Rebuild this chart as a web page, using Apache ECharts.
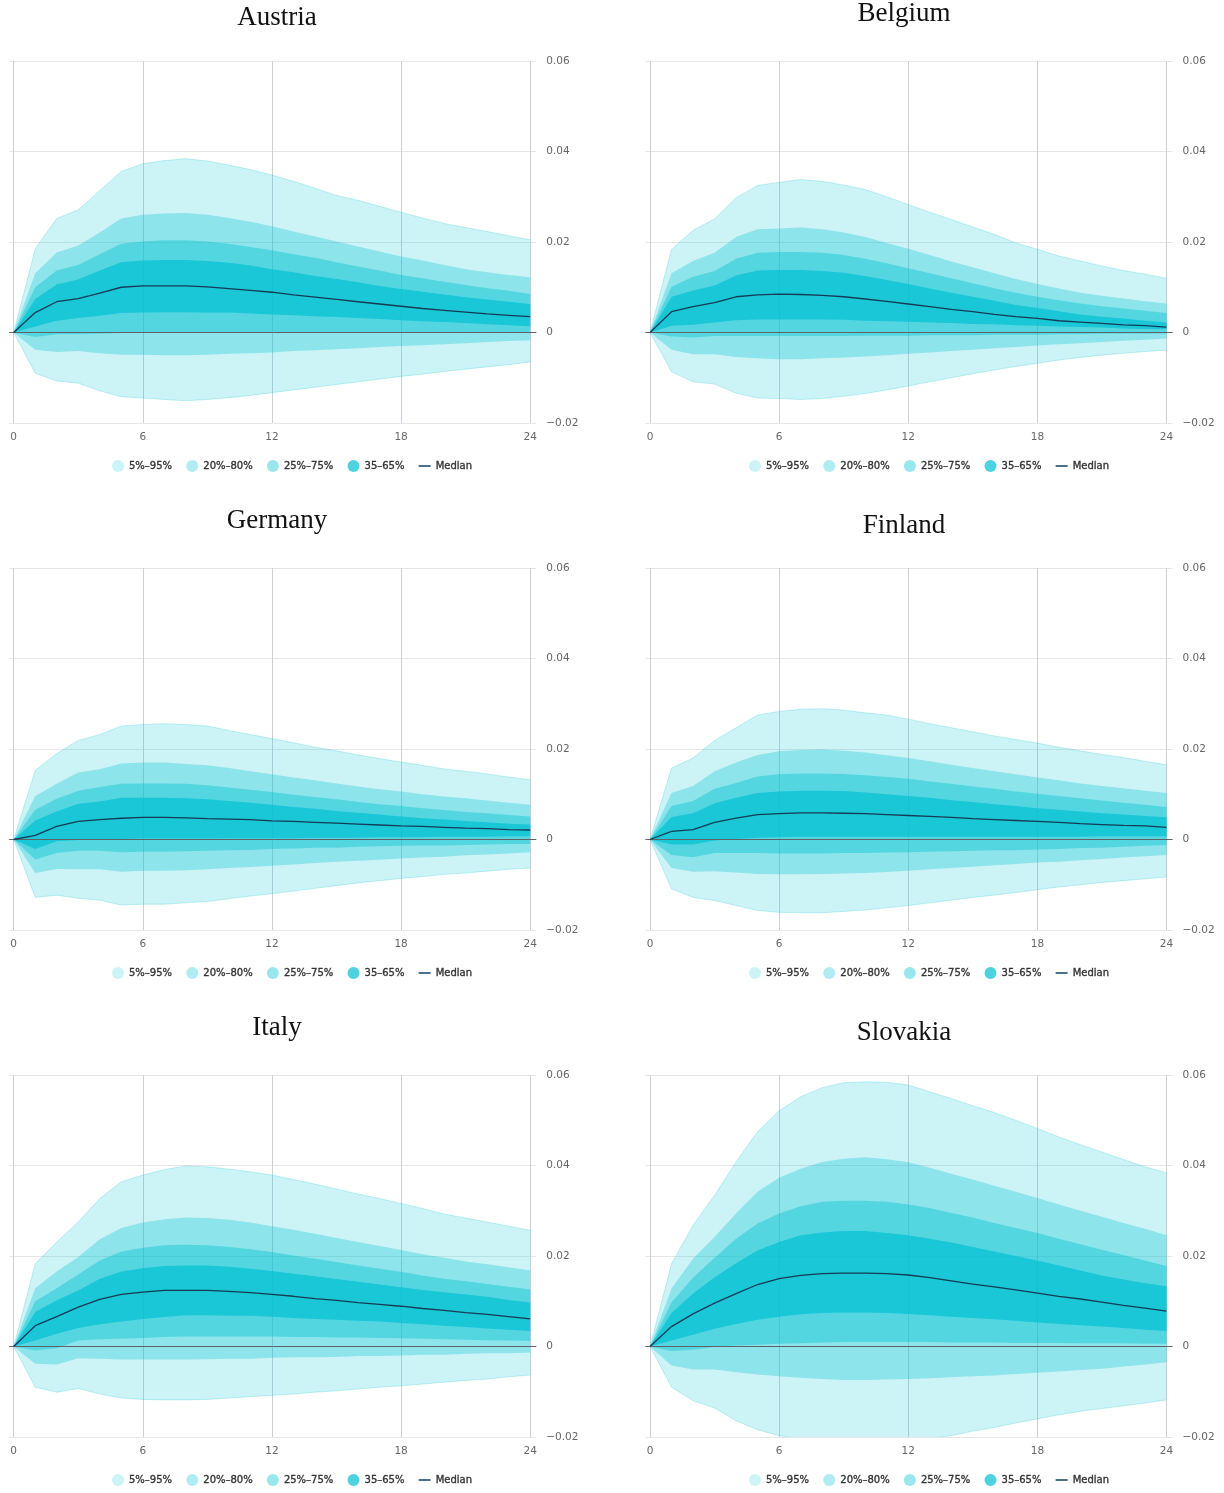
<!DOCTYPE html>
<html>
<head>
<meta charset="utf-8">
<script src="https://cdn.jsdelivr.net/npm/echarts@6/dist/echarts.min.js"></script>
<style>
  html, body { margin: 0; padding: 0; background: #ffffff; }
  #chart { width: 1224px; height: 1493px; }
</style>
</head>
<body>
<div id="chart"></div>
<script>
// Months after the shock
const HORIZON = [0,1,2,3,4,5,6,7,8,9,10,11,12,13,14,15,16,17,18,19,20,21,22,23,24];
const X_TICKS = [0, 6, 12, 18, 24];
const Y_TICKS = [-0.02, 0, 0.02, 0.04, 0.06];

// Austria
const AT_P05 = [0,-0.0090,-0.0107,-0.0112,-0.0129,-0.0142,-0.0145,-0.0148,-0.0151,-0.0148,-0.0144,-0.0139,-0.0133,-0.0127,-0.0121,-0.0115,-0.0109,-0.0103,-0.0097,-0.0092,-0.0086,-0.0081,-0.0076,-0.0071,-0.0065];
const AT_P95 = [0,0.0185,0.0252,0.0271,0.0314,0.0356,0.0373,0.0380,0.0384,0.0379,0.0370,0.0360,0.0348,0.0334,0.0319,0.0303,0.0292,0.0279,0.0266,0.0253,0.0241,0.0232,0.0223,0.0214,0.0205];
const AT_P20 = [0,-0.0038,-0.0043,-0.0041,-0.0046,-0.0049,-0.0049,-0.0050,-0.0050,-0.0049,-0.0047,-0.0046,-0.0044,-0.0041,-0.0039,-0.0037,-0.0035,-0.0032,-0.0030,-0.0028,-0.0026,-0.0024,-0.0021,-0.0019,-0.0017];
const AT_P80 = [0,0.0131,0.0177,0.0192,0.0221,0.0252,0.0260,0.0263,0.0264,0.0260,0.0253,0.0245,0.0235,0.0223,0.0212,0.0201,0.0190,0.0179,0.0168,0.0159,0.0149,0.0140,0.0133,0.0127,0.0122];
const AT_P25 = [0,-0.0010,-0.0004,-0.0004,-0.0003,-0.0001,0.0000,0.0000,0.0000,0.0001,0.0001,0.0001,0.0001,0.0001,0.0001,0.0001,0.0001,0.0001,0.0001,0.0001,0.0001,0.0001,0.0001,0.0001,0.0001];
const AT_P75 = [0,0.0100,0.0137,0.0149,0.0173,0.0196,0.0201,0.0204,0.0204,0.0201,0.0196,0.0189,0.0182,0.0173,0.0165,0.0155,0.0146,0.0137,0.0127,0.0120,0.0112,0.0105,0.0098,0.0092,0.0085];
const AT_P35 = [0,0.0013,0.0026,0.0032,0.0037,0.0043,0.0044,0.0045,0.0045,0.0044,0.0044,0.0042,0.0040,0.0038,0.0036,0.0034,0.0032,0.0030,0.0027,0.0025,0.0023,0.0021,0.0018,0.0016,0.0014];
const AT_P65 = [0,0.0074,0.0106,0.0117,0.0137,0.0155,0.0159,0.0160,0.0160,0.0158,0.0154,0.0148,0.0140,0.0133,0.0125,0.0118,0.0111,0.0103,0.0096,0.0090,0.0084,0.0078,0.0073,0.0068,0.0063];
const AT_MED = [0,0.0044,0.0068,0.0075,0.0087,0.0100,0.0103,0.0103,0.0103,0.0101,0.0097,0.0093,0.0089,0.0083,0.0078,0.0073,0.0068,0.0063,0.0058,0.0053,0.0049,0.0045,0.0041,0.0038,0.0035];

// Belgium
const BE_P05 = [0,-0.0087,-0.0109,-0.0114,-0.0134,-0.0145,-0.0146,-0.0148,-0.0146,-0.0141,-0.0135,-0.0127,-0.0118,-0.0109,-0.0100,-0.0091,-0.0083,-0.0075,-0.0068,-0.0061,-0.0055,-0.0050,-0.0046,-0.0042,-0.0039];
const BE_P95 = [0,0.0184,0.0226,0.0251,0.0298,0.0325,0.0332,0.0338,0.0334,0.0326,0.0316,0.0300,0.0283,0.0266,0.0250,0.0233,0.0217,0.0198,0.0184,0.0169,0.0158,0.0147,0.0137,0.0129,0.0120];
const BE_P20 = [0,-0.0038,-0.0048,-0.0048,-0.0054,-0.0057,-0.0059,-0.0059,-0.0057,-0.0055,-0.0053,-0.0050,-0.0047,-0.0044,-0.0041,-0.0038,-0.0035,-0.0032,-0.0029,-0.0026,-0.0024,-0.0021,-0.0018,-0.0016,-0.0013];
const BE_P80 = [0,0.0131,0.0158,0.0176,0.0211,0.0228,0.0230,0.0232,0.0228,0.0221,0.0211,0.0198,0.0185,0.0171,0.0157,0.0144,0.0131,0.0118,0.0107,0.0097,0.0088,0.0081,0.0075,0.0069,0.0064];
const BE_P25 = [0,-0.0009,-0.0011,-0.0008,-0.0008,-0.0008,-0.0008,-0.0008,-0.0008,-0.0008,-0.0007,-0.0007,-0.0007,-0.0006,-0.0006,-0.0006,-0.0005,-0.0005,-0.0005,-0.0004,-0.0004,-0.0003,-0.0003,-0.0003,-0.0002];
const BE_P75 = [0,0.0101,0.0123,0.0136,0.0163,0.0176,0.0178,0.0178,0.0176,0.0171,0.0163,0.0153,0.0142,0.0131,0.0120,0.0109,0.0098,0.0088,0.0079,0.0071,0.0064,0.0058,0.0053,0.0048,0.0043];
const BE_P35 = [0,0.0015,0.0017,0.0022,0.0027,0.0029,0.0029,0.0029,0.0029,0.0028,0.0026,0.0025,0.0024,0.0022,0.0021,0.0019,0.0018,0.0016,0.0015,0.0013,0.0012,0.0011,0.0009,0.0008,0.0007];
const BE_P65 = [0,0.0079,0.0093,0.0104,0.0126,0.0137,0.0138,0.0138,0.0136,0.0132,0.0125,0.0116,0.0107,0.0097,0.0088,0.0079,0.0070,0.0061,0.0054,0.0047,0.0040,0.0035,0.0031,0.0026,0.0022];
const BE_MED = [0,0.0046,0.0057,0.0066,0.0079,0.0083,0.0085,0.0084,0.0082,0.0079,0.0074,0.0069,0.0063,0.0057,0.0051,0.0046,0.0040,0.0035,0.0031,0.0026,0.0023,0.0020,0.0017,0.0015,0.0012];

// Germany
const DE_P05 = [0,-0.0128,-0.0123,-0.0130,-0.0134,-0.0145,-0.0143,-0.0143,-0.0140,-0.0137,-0.0131,-0.0125,-0.0120,-0.0114,-0.0108,-0.0102,-0.0096,-0.0091,-0.0086,-0.0082,-0.0077,-0.0074,-0.0070,-0.0066,-0.0063];
const DE_P95 = [0,0.0153,0.0190,0.0219,0.0232,0.0251,0.0254,0.0256,0.0254,0.0251,0.0241,0.0232,0.0223,0.0214,0.0204,0.0196,0.0187,0.0179,0.0171,0.0164,0.0156,0.0151,0.0145,0.0138,0.0132];
const DE_P20 = [0,-0.0074,-0.0065,-0.0066,-0.0066,-0.0071,-0.0069,-0.0069,-0.0068,-0.0066,-0.0063,-0.0061,-0.0058,-0.0055,-0.0052,-0.0049,-0.0047,-0.0045,-0.0042,-0.0040,-0.0038,-0.0035,-0.0033,-0.0031,-0.0028];
const DE_P80 = [0,0.0096,0.0123,0.0148,0.0155,0.0168,0.0170,0.0170,0.0167,0.0164,0.0158,0.0151,0.0144,0.0137,0.0131,0.0124,0.0117,0.0111,0.0106,0.0100,0.0095,0.0091,0.0086,0.0081,0.0077];
const DE_P25 = [0,-0.0044,-0.0030,-0.0025,-0.0025,-0.0028,-0.0027,-0.0027,-0.0026,-0.0025,-0.0024,-0.0023,-0.0021,-0.0020,-0.0018,-0.0018,-0.0016,-0.0015,-0.0014,-0.0013,-0.0013,-0.0012,-0.0011,-0.0010,-0.0010];
const DE_P75 = [0,0.0066,0.0090,0.0108,0.0116,0.0123,0.0124,0.0124,0.0123,0.0120,0.0115,0.0110,0.0105,0.0099,0.0094,0.0089,0.0083,0.0078,0.0074,0.0069,0.0065,0.0061,0.0058,0.0054,0.0051];
const DE_P35 = [0,-0.0021,-0.0004,-0.0001,0.0001,0.0001,0.0002,0.0002,0.0002,0.0002,0.0003,0.0003,0.0003,0.0003,0.0004,0.0004,0.0004,0.0005,0.0005,0.0005,0.0006,0.0006,0.0006,0.0007,0.0007];
const DE_P65 = [0,0.0042,0.0062,0.0079,0.0084,0.0092,0.0092,0.0092,0.0091,0.0089,0.0085,0.0081,0.0077,0.0072,0.0068,0.0063,0.0059,0.0055,0.0051,0.0047,0.0044,0.0041,0.0038,0.0035,0.0033];
const DE_MED = [0,0.0009,0.0029,0.0040,0.0044,0.0047,0.0049,0.0049,0.0048,0.0046,0.0045,0.0044,0.0041,0.0040,0.0038,0.0036,0.0034,0.0032,0.0030,0.0029,0.0027,0.0025,0.0024,0.0022,0.0021];

// Finland
const FI_P05 = [0,-0.0109,-0.0128,-0.0135,-0.0146,-0.0157,-0.0161,-0.0162,-0.0162,-0.0159,-0.0156,-0.0151,-0.0146,-0.0140,-0.0134,-0.0128,-0.0123,-0.0117,-0.0111,-0.0105,-0.0100,-0.0095,-0.0091,-0.0087,-0.0083];
const FI_P95 = [0,0.0158,0.0180,0.0219,0.0247,0.0275,0.0283,0.0288,0.0289,0.0286,0.0280,0.0275,0.0266,0.0256,0.0247,0.0238,0.0229,0.0221,0.0213,0.0204,0.0196,0.0188,0.0181,0.0173,0.0165];
const FI_P20 = [0,-0.0063,-0.0071,-0.0070,-0.0073,-0.0076,-0.0077,-0.0077,-0.0076,-0.0075,-0.0074,-0.0072,-0.0069,-0.0066,-0.0063,-0.0060,-0.0057,-0.0054,-0.0051,-0.0049,-0.0046,-0.0043,-0.0040,-0.0037,-0.0034];
const FI_P80 = [0,0.0103,0.0118,0.0151,0.0170,0.0187,0.0195,0.0198,0.0199,0.0196,0.0192,0.0186,0.0180,0.0173,0.0165,0.0158,0.0151,0.0144,0.0137,0.0131,0.0124,0.0118,0.0113,0.0108,0.0103];
const FI_P25 = [0,-0.0034,-0.0039,-0.0030,-0.0030,-0.0030,-0.0031,-0.0031,-0.0031,-0.0030,-0.0030,-0.0029,-0.0028,-0.0027,-0.0026,-0.0025,-0.0024,-0.0024,-0.0022,-0.0021,-0.0019,-0.0018,-0.0016,-0.0014,-0.0012];
const FI_P75 = [0,0.0074,0.0085,0.0112,0.0125,0.0139,0.0144,0.0146,0.0146,0.0145,0.0142,0.0138,0.0134,0.0128,0.0123,0.0117,0.0112,0.0106,0.0101,0.0096,0.0091,0.0086,0.0081,0.0077,0.0072];
const FI_P35 = [0,-0.0011,-0.0011,-0.0002,0.0001,0.0004,0.0005,0.0006,0.0006,0.0006,0.0006,0.0006,0.0006,0.0006,0.0006,0.0006,0.0006,0.0006,0.0006,0.0006,0.0006,0.0007,0.0007,0.0007,0.0007];
const FI_P65 = [0,0.0050,0.0058,0.0080,0.0092,0.0103,0.0106,0.0108,0.0108,0.0107,0.0104,0.0100,0.0096,0.0092,0.0087,0.0083,0.0078,0.0074,0.0069,0.0066,0.0062,0.0058,0.0055,0.0052,0.0049];
const FI_MED = [0,0.0018,0.0022,0.0038,0.0047,0.0055,0.0057,0.0059,0.0059,0.0058,0.0057,0.0055,0.0053,0.0051,0.0049,0.0046,0.0044,0.0042,0.0040,0.0038,0.0035,0.0033,0.0031,0.0030,0.0027];

// Italy
const IT_P05 = [0,-0.0090,-0.0101,-0.0093,-0.0105,-0.0114,-0.0117,-0.0118,-0.0118,-0.0117,-0.0114,-0.0111,-0.0108,-0.0105,-0.0101,-0.0098,-0.0094,-0.0090,-0.0087,-0.0083,-0.0079,-0.0075,-0.0072,-0.0067,-0.0063];
const IT_P95 = [0,0.0183,0.0231,0.0275,0.0327,0.0364,0.0379,0.0391,0.0399,0.0397,0.0392,0.0386,0.0379,0.0369,0.0359,0.0348,0.0337,0.0327,0.0316,0.0305,0.0293,0.0284,0.0275,0.0266,0.0257];
const IT_P20 = [0,-0.0038,-0.0040,-0.0026,-0.0027,-0.0029,-0.0029,-0.0029,-0.0029,-0.0028,-0.0027,-0.0027,-0.0025,-0.0024,-0.0024,-0.0023,-0.0021,-0.0021,-0.0020,-0.0018,-0.0018,-0.0016,-0.0015,-0.0015,-0.0013];
const IT_P80 = [0,0.0129,0.0166,0.0198,0.0237,0.0262,0.0274,0.0281,0.0285,0.0284,0.0280,0.0274,0.0266,0.0258,0.0249,0.0240,0.0231,0.0222,0.0213,0.0204,0.0196,0.0188,0.0182,0.0175,0.0168];
const IT_P25 = [0,-0.0009,-0.0004,0.0013,0.0016,0.0017,0.0019,0.0021,0.0022,0.0022,0.0022,0.0022,0.0022,0.0021,0.0021,0.0020,0.0020,0.0019,0.0018,0.0017,0.0016,0.0015,0.0014,0.0013,0.0012];
const IT_P75 = [0,0.0100,0.0129,0.0159,0.0190,0.0210,0.0218,0.0224,0.0225,0.0224,0.0220,0.0215,0.0209,0.0201,0.0194,0.0187,0.0179,0.0172,0.0165,0.0157,0.0150,0.0144,0.0138,0.0132,0.0126];
const IT_P35 = [0,0.0013,0.0028,0.0041,0.0049,0.0055,0.0061,0.0065,0.0069,0.0069,0.0068,0.0068,0.0066,0.0063,0.0061,0.0059,0.0057,0.0055,0.0052,0.0049,0.0046,0.0043,0.0040,0.0037,0.0034];
const IT_P65 = [0,0.0076,0.0102,0.0124,0.0150,0.0166,0.0173,0.0178,0.0179,0.0179,0.0176,0.0172,0.0167,0.0161,0.0155,0.0149,0.0143,0.0137,0.0131,0.0125,0.0120,0.0115,0.0110,0.0103,0.0097];
const IT_MED = [0,0.0046,0.0066,0.0087,0.0104,0.0115,0.0120,0.0124,0.0124,0.0124,0.0122,0.0119,0.0115,0.0111,0.0106,0.0102,0.0097,0.0093,0.0089,0.0084,0.0080,0.0075,0.0071,0.0066,0.0061];

// Slovakia
const SK_P05 = [0,-0.0090,-0.0120,-0.0136,-0.0164,-0.0184,-0.0197,-0.0204,-0.0209,-0.0212,-0.0212,-0.0209,-0.0206,-0.0203,-0.0197,-0.0187,-0.0179,-0.0169,-0.0160,-0.0151,-0.0143,-0.0137,-0.0131,-0.0125,-0.0118];
const SK_P95 = [0,0.0183,0.0268,0.0334,0.0408,0.0475,0.0521,0.0552,0.0572,0.0583,0.0585,0.0584,0.0578,0.0563,0.0548,0.0532,0.0517,0.0500,0.0482,0.0463,0.0446,0.0430,0.0413,0.0397,0.0384];
const SK_P20 = [0,-0.0042,-0.0051,-0.0051,-0.0057,-0.0062,-0.0066,-0.0069,-0.0072,-0.0074,-0.0074,-0.0073,-0.0072,-0.0070,-0.0068,-0.0066,-0.0064,-0.0061,-0.0058,-0.0055,-0.0052,-0.0049,-0.0044,-0.0040,-0.0035];
const SK_P80 = [0,0.0128,0.0194,0.0242,0.0294,0.0342,0.0373,0.0393,0.0408,0.0415,0.0418,0.0414,0.0407,0.0395,0.0382,0.0369,0.0355,0.0342,0.0328,0.0314,0.0300,0.0287,0.0273,0.0260,0.0246];
const SK_P25 = [0,-0.0010,-0.0007,-0.0001,0.0002,0.0004,0.0006,0.0007,0.0009,0.0010,0.0010,0.0010,0.0010,0.0010,0.0009,0.0009,0.0009,0.0008,0.0008,0.0008,0.0007,0.0007,0.0007,0.0006,0.0006];
const SK_P75 = [0,0.0098,0.0152,0.0196,0.0238,0.0272,0.0294,0.0310,0.0320,0.0322,0.0322,0.0320,0.0314,0.0306,0.0295,0.0285,0.0273,0.0262,0.0251,0.0238,0.0226,0.0214,0.0202,0.0190,0.0178];
const SK_P35 = [0,0.0013,0.0026,0.0039,0.0050,0.0059,0.0066,0.0071,0.0074,0.0075,0.0075,0.0074,0.0072,0.0069,0.0066,0.0063,0.0060,0.0057,0.0053,0.0050,0.0047,0.0044,0.0041,0.0037,0.0034];
const SK_P65 = [0,0.0074,0.0117,0.0153,0.0184,0.0212,0.0231,0.0246,0.0252,0.0255,0.0255,0.0251,0.0246,0.0238,0.0230,0.0220,0.0210,0.0200,0.0190,0.0179,0.0168,0.0157,0.0148,0.0140,0.0133];
const SK_MED = [0,0.0044,0.0072,0.0096,0.0117,0.0137,0.0150,0.0157,0.0161,0.0162,0.0162,0.0161,0.0158,0.0152,0.0145,0.0138,0.0132,0.0125,0.0118,0.0111,0.0105,0.0098,0.0091,0.0085,0.0078];

const BAND_NAMES = ['5%–95%', '20%–80%', '25%–75%', '35–65%'];
const MEDIAN_NAME = 'Median';

const PANELS = [
  { title: 'Austria',  bands: [[AT_P05, AT_P95], [AT_P20, AT_P80], [AT_P25, AT_P75], [AT_P35, AT_P65]], median: AT_MED },
  { title: 'Belgium',  bands: [[BE_P05, BE_P95], [BE_P20, BE_P80], [BE_P25, BE_P75], [BE_P35, BE_P65]], median: BE_MED },
  { title: 'Germany',  bands: [[DE_P05, DE_P95], [DE_P20, DE_P80], [DE_P25, DE_P75], [DE_P35, DE_P65]], median: DE_MED },
  { title: 'Finland',  bands: [[FI_P05, FI_P95], [FI_P20, FI_P80], [FI_P25, FI_P75], [FI_P35, FI_P65]], median: FI_MED },
  { title: 'Italy',    bands: [[IT_P05, IT_P95], [IT_P20, IT_P80], [IT_P25, IT_P75], [IT_P35, IT_P65]], median: IT_MED },
  { title: 'Slovakia', bands: [[SK_P05, SK_P95], [SK_P20, SK_P80], [SK_P25, SK_P75], [SK_P35, SK_P65]], median: SK_MED }
];

// Layout of the 3 x 2 panel grid (pixels)
const COL_X0 = [13.7, 650];         // pixel of x = 0
const PLOT_W = 516.5;                // x = 0 .. 24
const ROW_TOP = [61, 568, 1075];     // pixel of y = 0.06
const PLOT_H = 362;                  // y = 0.06 .. -0.02
const TITLE_X = [272, 899];          // title centre minus the title padding
const TITLE_TOP = [[-1, -5], [502, 507], [1009, 1014]];
const LEGEND_LEFT = [112, 749];

// Fan colours: one hue, increasing opacity toward the centre
const FAN_RGB = '0,193,209';
const BAND_ALPHA = [0.2, 0.31, 0.4, 0.7];
const MEDIAN_COLOR = '#163b57';
const LABEL_FONT = 'DejaVu Sans, Verdana, sans-serif';

function fmtY(v) {
  if (v === 0) return '0';
  const s = v.toFixed(2);
  return s.replace('-', '\u2212');
}

const grids = [], xAxes = [], yAxes = [], series = [], titles = [], legends = [];

PANELS.forEach((p, k) => {
  const col = k % 2, row = Math.floor(k / 2);
  const x0 = COL_X0[col], top = ROW_TOP[row];

  // Frame grid: slightly wider, carries horizontal grid lines, y labels, bottom line, zero line
  const gFrame = grids.length;
  grids.push({ left: x0 - 4.5, top: top, width: PLOT_W + 10.5, height: PLOT_H, containLabel: false });
  // Plot grid: exact data range 0..24
  const gPlot = grids.length;
  grids.push({ left: x0, top: top, width: PLOT_W, height: PLOT_H, containLabel: false });

  const xFrame = xAxes.length;
  xAxes.push({
    type: 'value', gridIndex: gFrame, min: 0, max: 1, show: true,
    axisLine: { show: true, lineStyle: { color: '#ccd6eb', width: 1 } },
    axisTick: { show: false }, axisLabel: { show: false }, splitLine: { show: false }
  });
  const xPlot = xAxes.length;
  xAxes.push({
    type: 'value', gridIndex: gPlot, min: 0, max: 24, interval: 6,
    axisLine: { show: false },
    axisTick: { show: true, length: 3, lineStyle: { color: '#ccd0d6' } },
    axisLabel: { show: true, margin: 9, color: '#666666', fontSize: 10.5, fontFamily: LABEL_FONT },
    splitLine: { show: true, lineStyle: { color: '#ccd0d6', width: 1 } }
  });

  const yFrame = yAxes.length;
  yAxes.push({
    type: 'value', gridIndex: gFrame, position: 'right', min: -0.02, max: 0.06, interval: 0.02,
    axisLine: { show: false }, axisTick: { show: false },
    axisLabel: { show: true, margin: 10, color: '#666666', fontSize: 10.5, fontFamily: LABEL_FONT, formatter: fmtY },
    splitLine: { show: true, lineStyle: { color: '#e6e6e6', width: 1 } }
  });
  const yPlot = yAxes.length;
  yAxes.push({
    type: 'value', gridIndex: gPlot, min: -0.02, max: 0.06, interval: 0.02, show: false,
    splitLine: { show: false }
  });

  // Fan bands, outer to inner; each band is a polygon between its lower and upper quantile
  p.bands.forEach((pair, j) => {
    const lo = pair[0], hi = pair[1];
    const fill = 'rgba(' + FAN_RGB + ',' + BAND_ALPHA[j] + ')';
    series.push({
      type: 'custom',
      name: BAND_NAMES[j],
      xAxisIndex: xPlot, yAxisIndex: yPlot,
      clip: true, silent: true, z: 2 + j * 0.01,
      itemStyle: { color: fill },
      encode: { x: 0, y: [1, 2] },
      data: HORIZON.map((h, i) => [h, lo[i], hi[i]]),
      renderItem: (params, api) => {
        if (params.dataIndexInside !== 0) return null;
        const n = params.dataInsideLength;
        const upper = [], lower = [];
        for (let i = 0; i < n; i++) {
          const x = api.value(0, i);
          upper.push(api.coord([x, api.value(2, i)]));
          lower.push(api.coord([x, api.value(1, i)]));
        }
        const children = [{
          type: 'polygon',
          shape: { points: upper.concat(lower.slice().reverse()) },
          style: { fill: fill }
        }];
        if (j === 0) {
          const edge = 'rgba(' + FAN_RGB + ',0.22)';
          children.push({ type: 'polyline', shape: { points: upper }, style: { stroke: edge, lineWidth: 1, fill: null } });
          children.push({ type: 'polyline', shape: { points: lower }, style: { stroke: edge, lineWidth: 1, fill: null } });
        }
        return { type: 'group', children: children };
      }
    });
  });

  // Zero reference line across the frame
  series.push({
    type: 'line', name: 'zero', xAxisIndex: xFrame, yAxisIndex: yFrame,
    data: [[0, 0], [1, 0]], symbol: 'none', silent: true, z: 5,
    lineStyle: { color: '#5f6368', width: 1 }
  });

  // Median path
  series.push({
    type: 'line', name: MEDIAN_NAME, xAxisIndex: xPlot, yAxisIndex: yPlot,
    data: HORIZON.map((h, i) => [h, p.median[i]]),
    symbol: 'none', showSymbol: false, silent: true, z: 6, clip: true,
    itemStyle: { color: MEDIAN_COLOR },
    lineStyle: { color: MEDIAN_COLOR, width: 1.3 }
  });

  titles.push({
    text: p.title, left: TITLE_X[col], top: TITLE_TOP[row][col], textAlign: 'center',
    textStyle: { fontFamily: 'Liberation Serif, serif', fontSize: 27, fontWeight: 'normal', color: '#111111' }
  });

  legends.push({
    left: LEGEND_LEFT[col], top: top + PLOT_H + 37, padding: 0,
    itemWidth: 12, itemHeight: 12, itemGap: 14, selectedMode: false, symbolKeepAspect: true,
    textStyle: {
      fontFamily: LABEL_FONT, fontSize: 10, color: '#333333', fontWeight: 'normal',
      textBorderColor: '#333333', textBorderWidth: 0.35
    },
    data: BAND_NAMES.map(n => ({ name: n, icon: 'circle' }))
      .concat([{ name: MEDIAN_NAME, icon: 'path://M0,0H12V1.6H0Z', itemStyle: { color: '#1d4f6e' } }])
  });
});

const chart = echarts.init(document.getElementById('chart'), null, { renderer: 'canvas' });
chart.setOption({
  backgroundColor: '#ffffff',
  animation: false,
  title: titles,
  legend: legends,
  grid: grids,
  xAxis: xAxes,
  yAxis: yAxes,
  series: series
});
</script>
</body>
</html>
